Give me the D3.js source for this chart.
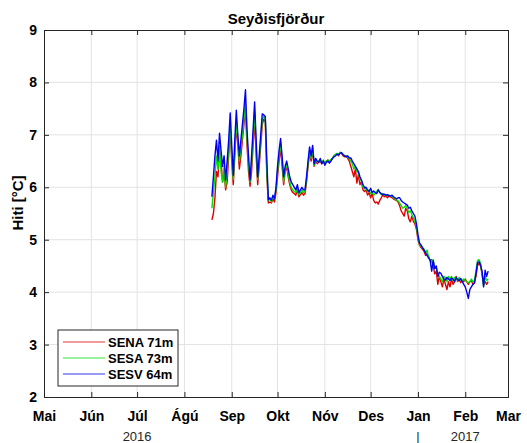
<!DOCTYPE html>
<html>
<head>
<meta charset="utf-8">
<script src="https://cdn.jsdelivr.net/npm/d3@7"></script>
<style>
  body { margin: 0; background: #fff; }
  svg { font-family: "Liberation Sans", Arial, sans-serif; }
</style>
</head>
<body>
<div id="chart"></div>
<script>
// chart values
var chartTitle = "Seyðisfjörður";
var yLabel = "Hiti [°C]";
var monthLabels = ["Mai", "Jún", "Júl", "Ágú", "Sep", "Okt", "Nóv", "Des", "Jan", "Feb", "Mar"];
var yTicks = [2, 3, 4, 5, 6, 7, 8, 9];
var yearLabels = [{ year: "2016", month: 2 }, { year: "2017", month: 9 }];
var seriesNames = ["SENA 71m", "SESA 73m", "SESV 64m"];
var firstDay = "2016-08-19";

// daily temperatures from firstDay
var sena = [5.38, 5.5, 5.8, 6.3, 6.2, 6.7, 6.5, 6.1, 6.3, 5.95,
  6.1, 6.6, 7.1, 6.5, 6.05, 6.6, 7.2, 6.8, 6.35, 6.6,
  6.9, 7.2, 7.5, 6.8, 6.3, 6.02, 6.3, 6.8, 7.3, 6.6,
  6.05, 6.4, 6.8, 7.2, 7.3, 7.25, 6.2, 5.7, 5.72, 5.7,
  5.78, 5.72, 5.9, 6.2, 6.5, 6.75, 6.4, 6.05, 6.3, 6.4,
  6.2, 6.05, 5.95, 5.9, 5.88, 5.85, 5.95, 5.82, 5.86, 5.9,
  5.85, 5.88, 6.1, 6.4, 6.65, 6.5, 6.7, 6.4, 6.5, 6.45,
  6.48, 6.5, 6.45, 6.5, 6.45, 6.5, 6.52, 6.48, 6.52, 6.55,
  6.6, 6.62, 6.64, 6.6, 6.66, 6.64, 6.6, 6.58, 6.6, 6.55,
  6.5, 6.4, 6.3, 6.2, 6.35, 6.08, 6.25, 6.05, 6.1, 5.95,
  5.92, 5.95, 5.85, 5.9, 5.8, 5.88, 5.75, 5.7, 5.72, 5.68,
  5.75, 5.8, 5.86, 5.82, 5.84, 5.8, 5.83, 5.82, 5.8, 5.78,
  5.76, 5.75, 5.72, 5.65, 5.55, 5.5, 5.45, 5.6, 5.55, 5.4,
  5.34, 5.45, 5.35, 5.3, 5.2, 5.0, 4.9, 4.85, 4.82, 4.78,
  4.7, 4.72, 4.68, 4.6, 4.62, 4.5, 4.35, 4.4, 4.15, 4.3,
  4.2, 4.1, 4.25, 4.15, 4.05, 4.2, 4.1, 4.25, 4.15, 4.2,
  4.3, 4.2, 4.25, 4.18, 4.22, 4.2, 4.25, 4.2, 4.15, 4.2,
  4.22, 4.15, 4.18, 4.3, 4.5, 4.55, 4.5, 4.35, 4.15, 4.2,
  4.15, 4.2];

var sesa = [5.6, 5.9, 6.2, 6.6, 6.35, 6.8, 6.3, 6.1, 6.4, 6.0,
  6.3, 6.75, 7.2, 6.6, 6.15, 6.7, 7.25, 6.9, 6.5, 6.75,
  7.0, 7.3, 7.6, 6.95, 6.45, 6.1, 6.45, 6.95, 7.45, 6.75,
  6.15, 6.5, 6.9, 7.3, 7.35, 7.3, 6.3, 5.75, 5.78, 5.72,
  5.82, 5.8, 5.95, 6.3, 6.6, 6.85, 6.5, 6.1, 6.35, 6.45,
  6.25, 6.1, 6.0, 5.95, 5.92, 5.9, 6.0, 5.86, 5.9, 5.95,
  5.9, 5.92, 6.15, 6.45, 6.7, 6.55, 6.75, 6.42, 6.52, 6.48,
  6.5, 6.52, 6.47, 6.52, 6.45, 6.5, 6.52, 6.5, 6.53, 6.56,
  6.6, 6.63, 6.65, 6.62, 6.67, 6.65, 6.62, 6.6, 6.6, 6.57,
  6.55, 6.5, 6.45, 6.35, 6.4, 6.3, 6.28, 6.15, 6.12, 6.0,
  5.97, 5.98, 5.92, 5.95, 5.88, 5.92, 5.85, 5.88, 5.92, 5.96,
  5.9, 5.86, 5.88, 5.85, 5.86, 5.84, 5.85, 5.83, 5.84, 5.8,
  5.78, 5.76, 5.74, 5.7, 5.65, 5.6, 5.62, 5.65, 5.6, 5.52,
  5.55, 5.48, 5.42, 5.35, 5.25, 5.05, 4.92, 4.88, 4.84, 4.82,
  4.75, 4.8, 4.66, 4.62, 4.58, 4.62, 4.45, 4.48, 4.35, 4.3,
  4.25, 4.2, 4.3, 4.28, 4.2, 4.3, 4.25, 4.3, 4.22, 4.28,
  4.26, 4.22, 4.28, 4.24, 4.22, 4.25, 4.22, 4.2, 4.18, 4.2,
  4.25, 4.2, 4.22, 4.4, 4.6, 4.62, 4.55, 4.35, 4.12, 4.3,
  4.22, 4.25];

var sesv = [5.82, 6.2, 6.6, 6.9, 6.5, 7.03, 6.7, 6.4, 6.6, 6.14,
  6.5, 6.9, 7.42, 6.8, 6.23, 6.9, 7.47, 7.0, 6.6, 6.9,
  7.2, 7.5, 7.86, 7.1, 6.6, 6.14, 6.6, 7.1, 7.63, 6.9,
  6.2, 6.6, 7.0, 7.4, 7.38, 7.35, 6.5, 5.76, 5.8, 5.75,
  5.85, 5.78, 6.0, 6.4, 6.7, 6.93, 6.6, 6.2, 6.4, 6.5,
  6.35, 6.2, 6.1, 6.05, 6.0, 5.95, 6.05, 5.9, 5.95, 6.0,
  5.95, 5.95, 6.2, 6.5, 6.77, 6.6, 6.8, 6.45, 6.55, 6.5,
  6.48, 6.55, 6.45, 6.5, 6.42, 6.48, 6.5, 6.46, 6.5, 6.55,
  6.58, 6.6, 6.63, 6.62, 6.65, 6.66, 6.62, 6.6, 6.58, 6.6,
  6.56, 6.56, 6.5, 6.45, 6.4, 6.35, 6.3, 6.2, 6.14, 6.05,
  5.99, 6.0, 5.95, 5.92, 5.98, 5.9, 5.93, 5.9, 5.88, 5.95,
  5.9, 5.88, 5.86, 5.87, 5.85, 5.86, 5.84, 5.83, 5.85, 5.82,
  5.8, 5.78, 5.8, 5.8, 5.75, 5.72, 5.7, 5.68, 5.66, 5.6,
  5.62, 5.55, 5.5, 5.45, 5.3, 5.1, 4.94, 4.9, 4.85, 4.8,
  4.75, 4.7, 4.65, 4.61, 4.4, 4.6, 4.45, 4.5, 4.3, 4.38,
  4.36, 4.3, 4.25, 4.23, 4.28, 4.25, 4.22, 4.27, 4.25, 4.2,
  4.28, 4.24, 4.22, 4.26, 4.2, 4.15, 4.1, 4.0, 3.88, 4.05,
  4.1, 4.15, 4.17, 4.35, 4.56, 4.58, 4.52, 4.4, 4.1, 4.42,
  4.3, 4.4];

var svgWidth = 527;
var svgHeight = 443;
var margin = { top: 30, right: 19, bottom: 46, left: 44 };
var width = svgWidth - margin.left - margin.right;
var height = svgHeight - margin.top - margin.bottom;

var axisColor = "#262626";
var gridColor = "#e3e3e3";
var colors = ["#e00000", "#00e000", "#0000ee"];

var svg = d3.select("#chart")
  .append("svg")
  .attr("width", svgWidth)
  .attr("height", svgHeight);

var chartGroup = svg.append("g")
  .attr("transform", `translate(${margin.left}, ${margin.top})`);

// scales
var monthDates = monthLabels.map((m, i) => d3.utcMonth.offset(new Date(Date.UTC(2016, 4, 1)), i));
var xScale = d3.scaleUtc()
  .domain([monthDates[0], monthDates[monthDates.length - 1]])
  .range([0, width]);

var yScale = d3.scaleLinear()
  .domain([2, 9])
  .range([height, 0]);

// grid
chartGroup.append("g")
  .selectAll("line")
  .data(monthDates.slice(1, -1))
  .enter()
  .append("line")
  .attr("x1", d => xScale(d))
  .attr("x2", d => xScale(d))
  .attr("y1", 0)
  .attr("y2", height)
  .attr("stroke", gridColor);

chartGroup.append("g")
  .selectAll("line")
  .data(yTicks.slice(1, -1))
  .enter()
  .append("line")
  .attr("x1", 0)
  .attr("x2", width)
  .attr("y1", d => yScale(d))
  .attr("y2", d => yScale(d))
  .attr("stroke", gridColor);

// data lines
var start = d3.utcParse("%Y-%m-%d")(firstDay);
var line = d3.line()
  .x((d, i) => xScale(d3.utcDay.offset(start, i)))
  .y(d => yScale(d));

[sena, sesa, sesv].forEach(function(values, k) {
  chartGroup.append("path")
    .datum(values)
    .attr("fill", "none")
    .attr("stroke", colors[k])
    .attr("stroke-width", 1.4)
    .attr("stroke-linejoin", "round")
    .attr("d", line);
});

// axes, ticks pointing inward
var bottomAxis = d3.axisBottom(xScale)
  .tickValues(monthDates)
  .tickSize(-5)
  .tickFormat((d, i) => monthLabels[i]);
var topAxis = d3.axisTop(xScale)
  .tickValues(monthDates)
  .tickSize(-5)
  .tickFormat("");
var leftAxis = d3.axisLeft(yScale)
  .tickValues(yTicks)
  .tickSize(-5)
  .tickFormat(d3.format("d"));
var rightAxis = d3.axisRight(yScale)
  .tickValues(yTicks)
  .tickSize(-5)
  .tickFormat("");

var xAxis = chartGroup.append("g")
  .attr("transform", `translate(0, ${height})`)
  .call(bottomAxis);
xAxis.selectAll("text").attr("dy", "0.71em").attr("y", 14);

chartGroup.append("g").call(topAxis);

var yAxis = chartGroup.append("g").call(leftAxis);
yAxis.selectAll("text").attr("x", -7);

chartGroup.append("g")
  .attr("transform", `translate(${width}, 0)`)
  .call(rightAxis);

chartGroup.selectAll(".domain, .tick line")
  .attr("stroke", axisColor);
chartGroup.selectAll(".tick text")
  .attr("fill", "#000")
  .attr("font-size", "14px")
  .attr("font-weight", "bold")
  .attr("font-family", "Liberation Sans, Arial, sans-serif");

// year labels
chartGroup.append("g")
  .selectAll("text")
  .data(yearLabels)
  .enter()
  .append("text")
  .attr("x", d => xScale(monthDates[d.month]))
  .attr("y", height + 44)
  .attr("text-anchor", "middle")
  .attr("font-size", "13px")
  .attr("fill", "#262626")
  .text(d => d.year);

chartGroup.append("text")
  .attr("x", xScale(monthDates[8]))
  .attr("y", height + 44)
  .attr("text-anchor", "middle")
  .attr("font-size", "13px")
  .attr("fill", "#262626")
  .text("|");

// title
chartGroup.append("text")
  .attr("x", width / 2)
  .attr("y", -6)
  .attr("text-anchor", "middle")
  .attr("font-size", "15px")
  .attr("font-weight", "bold")
  .text(chartTitle);

// y label
chartGroup.append("text")
  .attr("transform", "rotate(-90)")
  .attr("x", -yScale(5.7))
  .attr("y", -21)
  .attr("text-anchor", "middle")
  .attr("font-size", "15px")
  .attr("font-weight", "bold")
  .text(yLabel);

// legend
var legend = chartGroup.append("g")
  .attr("transform", "translate(14, 300)");

legend.append("rect")
  .attr("width", 120)
  .attr("height", 56)
  .attr("fill", "#fff")
  .attr("stroke", axisColor);

seriesNames.forEach(function(name, k) {
  var yy = 12 + k * 16;
  legend.append("line")
    .attr("x1", 5)
    .attr("x2", 47)
    .attr("y1", yy)
    .attr("y2", yy)
    .attr("stroke", colors[k])
    .attr("stroke-width", 0.8);
  legend.append("text")
    .attr("x", 50)
    .attr("y", yy)
    .attr("dy", "0.35em")
    .attr("font-size", "13px")
    .attr("font-weight", "bold")
    .text(name);
});
</script>
</body>
</html>
